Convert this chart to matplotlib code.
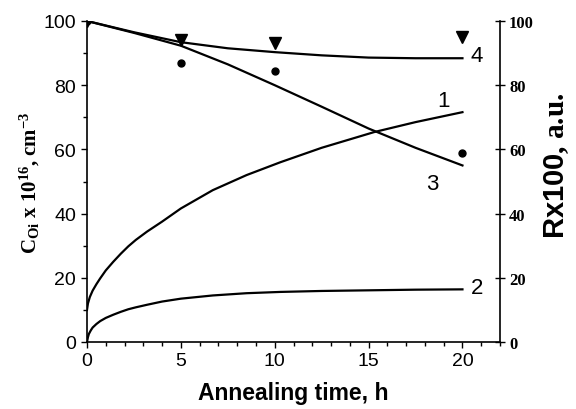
import matplotlib
matplotlib.use("Agg")
import matplotlib.pyplot as plt
import numpy as np

plt.rcParams['mathtext.fontset'] = 'custom'
plt.rcParams['mathtext.rm'] = 'Liberation Serif:bold'
plt.rcParams['mathtext.it'] = 'Liberation Serif:bold'
plt.rcParams['mathtext.bf'] = 'Liberation Serif:bold'
plt.rcParams['mathtext.sf'] = 'Liberation Sans:bold'

# Curve 1 (C_Oi growth, left axis)
t1 = [0, 0.05, 0.15, 0.3, 0.5, 0.7, 1.0, 1.4, 1.8, 2.2, 2.6, 3.2, 4.0, 5.0, 6.7, 8.5, 10.3, 12.5, 15.3, 17.5, 20]
c1 = [10, 12, 14, 16, 18, 19.8, 22.3, 25, 27.5, 29.8, 31.8, 34.4, 37.5, 41.6, 47.3, 52, 56, 60.5, 65.4, 68.5, 71.6]
# Curve 2
t2 = [0, 0.05, 0.1, 0.2, 0.3, 0.5, 0.7, 1.0, 1.4, 1.8, 2.2, 2.6, 3.2, 4.0, 5.0, 6.7, 8.5, 10.3, 12.5, 15, 17.5, 20]
c2 = [0, 1.5, 2.5, 3.6, 4.5, 5.6, 6.5, 7.5, 8.5, 9.4, 10.2, 10.8, 11.6, 12.6, 13.5, 14.5, 15.2, 15.6, 15.9, 16.1, 16.3, 16.4]
# Curve 3 and 4 (right axis, Rx100)
t34 = [0, 2.5, 5, 7.5, 10, 12.5, 15, 17.5, 20]
c3 = [100, 96.3, 92.3, 86.5, 80, 73.3, 66.5, 60.5, 55]
c4 = [100, 96.5, 93.4, 91.5, 90.3, 89.3, 88.6, 88.4, 88.4]
# Measured points
tp = [0, 5, 10, 20]
tri = [100, 94.2, 93.1, 94.9]
dots = [100, 87.0, 84.4, 59.0]

curve_labels = ['1', '2', '3', '4']

fig = plt.figure(figsize=(5.76, 4.10), dpi=100)
ax = fig.add_axes([87/576, 1-343/410, 413/576, 321/410])
ax2 = ax.twinx()

lw = 1.6
ax.plot(t1, c1, color='black', lw=lw)
ax.plot(t2, c2, color='black', lw=lw)
ax2.plot(t34, c3, color='black', lw=lw)
ax2.plot(t34, c4, color='black', lw=lw)
ax2.plot(tp, tri, linestyle='none', marker='v', color='black', ms=8)
ax2.plot(tp, dots, linestyle='none', marker='o', color='black', ms=5)

ax.set_xlim(0, 22)
ax.set_ylim(0, 100)
ax2.set_ylim(0, 100)

ax.spines['top'].set_visible(False)
ax2.spines['top'].set_visible(False)
ax.spines['right'].set_visible(False)
for s in ['left', 'bottom']:
    ax.spines[s].set_linewidth(1.2)
ax2.spines['right'].set_linewidth(1.2)
ax2.spines['left'].set_visible(False)
ax2.spines['bottom'].set_visible(False)

ax.set_xticks([0, 5, 10, 15, 20])
ax.set_xticks(np.arange(0, 23, 1), minor=True)
ax.set_yticks([0, 20, 40, 60, 80, 100])
ax.set_yticks(np.arange(0, 101, 10), minor=True)
ax.tick_params(axis='both', which='major', direction='out', length=4, width=1, labelsize=14, pad=3)
ax.tick_params(axis='both', which='minor', direction='out', length=3, width=1)
ax.tick_params(axis='y', which='major', pad=4)
for lab in ax.get_xticklabels() + ax.get_yticklabels():
    lab.set_family('Liberation Sans')

ax2.set_yticks([0, 20, 40, 60, 80, 100])
ax2.tick_params(axis='y', which='major', direction='inout', length=7, width=1, labelsize=12, pad=3)
for lab in ax2.get_yticklabels():
    lab.set_family('Liberation Serif')
    lab.set_weight('bold')

ax.set_xlabel('Annealing time, h', family='Liberation Sans', weight='bold', fontsize=16.5, va='center')
ax.xaxis.set_label_coords(0.5, -0.156)
ax.set_ylabel(r'$\mathrm{C_{Oi}}$ x 10$^{16}$, cm$^{-3}$', family='Liberation Serif', weight='bold',
              fontsize=15, va='center')
ax.yaxis.set_label_coords(-0.138, 0.50)
ax2.set_ylabel(r'$\mathsf{Rx100}$, a.u.', family='Liberation Serif', weight='bold', fontsize=21,
               rotation=90, va='center')
ax2.yaxis.set_label_coords(1.136, 0.551)

label_pos = [(18.99, 75.1), (20.8, 17.1), (18.4, 49.3), (20.75, 89.1)]
for txt, (x, y) in zip(curve_labels, label_pos):
    ax.text(x, y, txt, family='Liberation Sans', fontsize=16, ha='center', va='center')

fig.savefig('out.png', dpi=100)
